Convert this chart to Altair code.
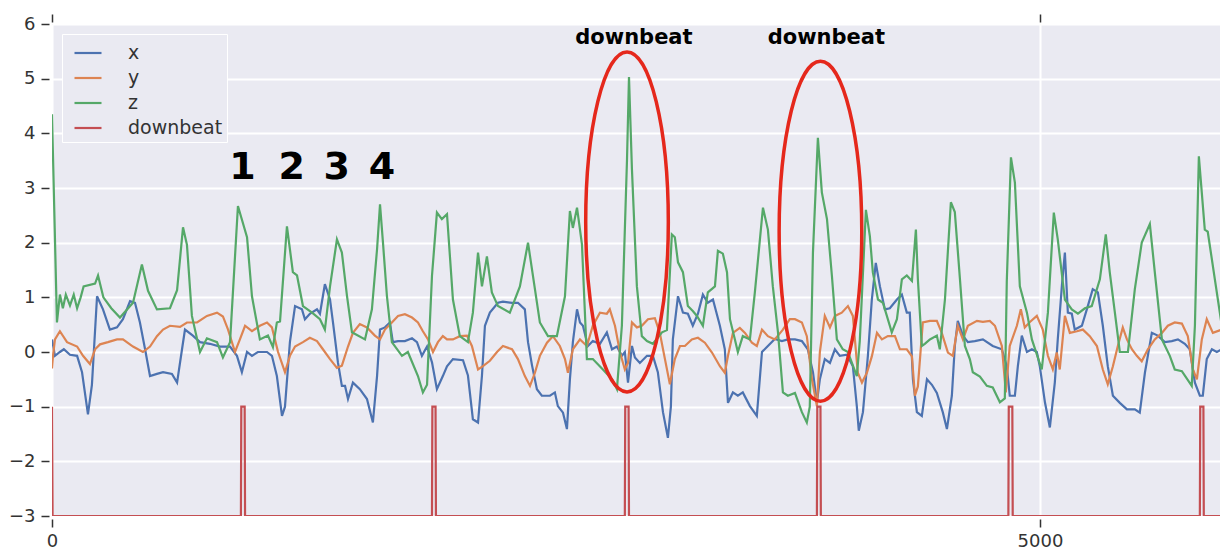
import altair as alt
import pandas as pd

# ---------------- data ----------------
x_t = [0, 15, 40, 60, 91, 127, 152, 182, 202, 228, 258, 293, 329, 359, 395, 420, 445, 471, 496, 531,
       562, 607, 633, 658, 673, 713, 749, 799, 850, 901, 936, 961, 987, 1012, 1042, 1088, 1113, 1138, 1164, 1179,
       1204, 1230, 1265, 1280, 1305, 1341, 1356, 1381, 1407, 1422, 1447, 1467, 1483, 1498, 1523, 1558, 1594, 1624, 1645, 1660,
       1685, 1710, 1725, 1751, 1786, 1822, 1847, 1872, 1898, 1923, 1948, 1978, 1999, 2029, 2080, 2105, 2130, 2156, 2176, 2191,
       2216, 2257, 2282, 2328, 2358, 2393, 2409, 2429, 2454, 2479, 2520, 2545, 2560, 2586, 2606, 2621, 2636, 2657, 2672, 2687,
       2712, 2737, 2773, 2808, 2834, 2859, 2884, 2899, 2915, 2935, 2950, 2975, 3011, 3041, 3066, 3092, 3117, 3132, 3142, 3168,
       3193, 3218, 3243, 3269, 3294, 3319, 3345, 3380, 3405, 3421, 3446, 3471, 3496, 3532, 3567, 3593, 3623, 3658, 3694, 3724,
       3760, 3795, 3825, 3851, 3871, 3886, 3911, 3937, 3962, 3987, 4023, 4053, 4073, 4083, 4104, 4129, 4149, 4169, 4190, 4215,
       4240, 4276, 4301, 4326, 4341, 4357, 4377, 4402, 4428, 4453, 4478, 4508, 4529, 4554, 4569, 4584, 4610, 4635, 4670, 4711,
       4761, 4807, 4832, 4847, 4873, 4888, 4908, 4934, 4959, 4984, 4999, 5025, 5050, 5075, 5090, 5111, 5126, 5141, 5161, 5176,
       5212, 5242, 5267, 5293, 5318, 5343, 5369, 5404, 5440, 5480, 5505, 5531, 5566, 5596, 5632, 5667, 5698, 5733, 5758, 5784,
       5809, 5824, 5844, 5870, 5895, 5920, 5951]
x_v = [0.23, -0.07, 0.0, 0.05, -0.05, -0.07, -0.37, -1.14, -0.6, 1.02, 0.78, 0.41, 0.45, 0.6, 0.93, 0.9, 0.54, 0.05, -0.44, -0.4,
       -0.37, -0.4, -0.56, 0.05, 0.41, 0.3, 0.18, 0.15, 0.1, 0.1, -0.07, -0.37, 0.0, -0.07, 0.0, 0.0, -0.07, -0.44, -1.17, -1.0,
       0.18, 0.84, 0.78, 0.6, 0.7, 0.78, 0.7, 1.24, 0.96, 0.54, -0.19, -0.62, -0.62, -0.86, -0.56, -0.68, -0.86, -1.29, -0.44, 0.41,
       0.45, 0.54, 0.18, 0.2, 0.2, 0.25, 0.18, -0.07, 0.1, -0.19, -0.68, -0.44, -0.26, -0.13, -0.15, -0.43, -1.23, -1.29, -0.43, 0.48,
       0.72, 0.9, 0.92, 0.9, 0.9, 0.78, 0.18, -0.24, -0.68, -0.8, -0.8, -0.74, -0.99, -1.11, -1.41, -0.5, 0.18, 0.78, 0.54, 0.48,
       0.11, 0.2, 0.15, 0.36, 0.05, 0.1, -0.07, 0.0, -0.56, 0.11, -0.1, -0.2, -0.07, -0.07, -0.37, -1.1, -1.57, -1.0, 0.23, 1.02,
       0.72, 0.7, 0.48, 0.7, 1.05, 0.9, 0.96, 0.48, 0.05, -0.93, -0.74, -0.8, -0.74, -0.99, -1.17, 0.0, 0.11, 0.24, 0.2, 0.23,
       0.23, 0.2, 0.05, -0.37, -0.92, -0.5, -0.13, -0.2, 0.05, -0.07, -0.05, -0.26, -0.99, -1.44, -1.1, -0.07, 0.96, 1.63, 1.2, 0.78,
       0.8, 0.96, 1.05, 0.72, 0.72, -0.5, -1.1, -1.17, -0.5, -0.6, -0.75, -1.1, -1.41, -0.8, 0.11, 0.57, 0.3, 0.18, 0.2, 0.23,
       0.11, 0.05, -0.26, -0.8, -0.8, -0.26, 0.3, 0.0, 0.05, 0.0, -0.26, -0.92, -1.38, -0.56, 0.23, 1.22, 1.82, 0.72, 0.7, 0.41,
       0.48, 0.84, 1.15, 1.09, 0.48, -0.26, -0.8, -0.93, -1.05, -1.05, -1.11, -0.38, 0.35, 0.3, 0.18, 0.2, 0.23, 0.15, 0.05, -0.56,
       -0.8, -0.8, -0.13, 0.05, 0.0, 0.05, -0.13]

y_t = [0, 5, 15, 40, 76, 127, 157, 192, 218, 243, 283, 329, 359, 410, 460, 496, 531, 562, 597, 648,
       683, 734, 784, 835, 865, 891, 926, 951, 977, 1012, 1052, 1088, 1113, 1144, 1179, 1204, 1230, 1270, 1305, 1341,
       1371, 1407, 1442, 1467, 1498, 1523, 1558, 1594, 1634, 1660, 1685, 1720, 1751, 1786, 1822, 1852, 1877, 1903, 1928, 1953,
       1978, 1999, 2029, 2064, 2100, 2125, 2156, 2181, 2216, 2252, 2282, 2328, 2358, 2393, 2419, 2444, 2469, 2505, 2535, 2570,
       2596, 2611, 2636, 2672, 2707, 2737, 2773, 2808, 2823, 2849, 2874, 2899, 2915, 2935, 2960, 2985, 3016, 3051, 3076, 3102,
       3127, 3152, 3178, 3203, 3238, 3269, 3304, 3340, 3380, 3405, 3421, 3446, 3481, 3507, 3542, 3567, 3593, 3623, 3658, 3699,
       3734, 3760, 3795, 3820, 3846, 3871, 3886, 3911, 3937, 3962, 3997, 4028, 4053, 4078, 4099, 4124, 4149, 4175, 4200, 4230,
       4266, 4291, 4326, 4352, 4367, 4382, 4407, 4443, 4478, 4503, 4534, 4559, 4584, 4610, 4635, 4681, 4711, 4746, 4772, 4807,
       4827, 4847, 4883, 4903, 4923, 4949, 4984, 5014, 5040, 5065, 5085, 5100, 5126, 5151, 5187, 5217, 5252, 5288, 5318, 5343,
       5369, 5394, 5419, 5440, 5465, 5490, 5515, 5546, 5581, 5617, 5647, 5682, 5718, 5748, 5774, 5794, 5819, 5844, 5875, 5920,
       5951]
y_v = [-0.3, -0.07, 0.23, 0.38, 0.18, 0.1, -0.07, -0.22, 0.05, 0.14, 0.18, 0.23, 0.23, 0.1, 0.0, 0.1, 0.29, 0.41, 0.48, 0.46,
       0.54, 0.54, 0.66, 0.72, 0.65, 0.41, 0.0, 0.23, 0.48, 0.38, 0.48, 0.54, 0.45, 0.0, -0.37, -0.07, 0.1, 0.18, 0.26, 0.2,
       0.05, -0.13, -0.29, -0.25, 0.1, 0.35, 0.51, 0.45, 0.3, 0.23, 0.41, 0.54, 0.66, 0.69, 0.63, 0.54, 0.38, 0.23, 0.0, 0.18,
       0.29, 0.23, 0.23, 0.29, 0.3, 0.11, -0.32, -0.26, -0.16, 0.0, 0.11, 0.05, -0.13, -0.44, -0.62, -0.38, -0.07, 0.17, 0.29, 0.11,
       -0.13, -0.38, 0.05, 0.23, 0.11, 0.48, 0.72, 0.7, 0.78, 0.48, 0.0, -0.32, -0.2, 0.54, 0.45, 0.48, 0.6, 0.62, 0.35, -0.13,
       -0.59, -0.13, 0.11, 0.11, 0.23, 0.26, 0.17, -0.01, -0.26, -0.38, -0.07, 0.35, 0.44, 0.35, 0.17, 0.11, 0.41, 0.29, 0.23, 0.41,
       0.6, 0.6, 0.54, 0.29, -0.5, -0.99, 0.0, 0.66, 0.45, 0.66, 0.72, 0.84, 0.66, -0.38, -0.56, -0.38, -0.08, 0.35, 0.23, 0.29,
       0.29, 0.05, 0.05, -0.08, -0.8, -0.63, 0.54, 0.57, 0.57, 0.35, -0.01, -0.07, 0.48, 0.23, 0.48, 0.57, 0.55, 0.57, 0.48, 0.11,
       -0.74, 0.11, 0.48, 0.78, 0.45, 0.55, 0.66, 0.41, -0.07, -0.32, -0.01, -0.32, 0.66, 0.35, 0.38, 0.41, 0.29, 0.11, -0.32, -0.59,
       -0.26, 0.11, 0.45, 0.23, 0.05, -0.07, -0.17, 0.05, 0.23, 0.35, 0.48, 0.54, 0.52, 0.29, -0.32, -0.5, 0.23, 0.6, 0.35, 0.41,
       0.48]

z_t = [0, 25, 40, 55, 70, 91, 110, 127, 145, 160, 218, 233, 260, 300, 344, 410, 455, 486, 531, 597,
       633, 663, 683, 708, 749, 784, 835, 865, 901, 941, 987, 1012, 1052, 1093, 1118, 1138, 1154, 1189, 1219, 1240,
       1270, 1316, 1356, 1381, 1407, 1442, 1467, 1493, 1518, 1584, 1619, 1645, 1660, 1675, 1695, 1720, 1771, 1801, 1852, 1877,
       1898, 1923, 1948, 1973, 1999, 2029, 2064, 2105, 2130, 2156, 2176, 2201, 2226, 2257, 2317, 2368, 2409, 2444, 2469, 2510,
       2555, 2596, 2621, 2636, 2657, 2682, 2707, 2737, 2788, 2834, 2859, 2884, 2910, 2920, 2935, 2960, 2985, 3011, 3041, 3087,
       3112, 3137, 3152, 3168, 3193, 3218, 3243, 3264, 3294, 3319, 3355, 3370, 3395, 3416, 3431, 3456, 3471, 3496, 3532, 3557,
       3598, 3623, 3648, 3674, 3699, 3724, 3760, 3795, 3820, 3835, 3851, 3876, 3896, 3922, 3947, 3972, 4002, 4028, 4073, 4088,
       4119, 4139, 4154, 4180, 4205, 4250, 4276, 4301, 4326, 4352, 4372, 4382, 4402, 4417, 4443, 4478, 4493, 4519, 4549, 4569,
       4595, 4620, 4645, 4660, 4696, 4731, 4761, 4797, 4822, 4832, 4853, 4873, 4898, 4934, 4959, 5009, 5040, 5070, 5090, 5126,
       5161, 5192, 5227, 5262, 5303, 5333, 5353, 5379, 5404, 5445, 5480, 5515, 5556, 5581, 5617, 5657, 5682, 5718, 5768, 5784,
       5804, 5834, 5849, 5885, 5920, 5951]
z_v = [4.35, 0.54, 1.05, 0.8, 1.05, 0.85, 1.05, 0.8, 1.0, 1.2, 1.25, 1.4, 1.0, 0.8, 0.63, 0.9, 1.6, 1.12, 0.78, 0.8,
       1.13, 2.28, 1.96, 0.66, 0.0, 0.25, 0.18, -0.1, 0.18, 2.67, 2.1, 1.02, 0.23, 0.3, 0.09, 0.54, 0.56, 2.3, 1.46, 1.4,
       0.84, 0.72, 0.6, 0.41, 1.2, 2.06, 1.82, 1.02, 0.36, 0.23, 0.78, 1.88, 2.7, 2.0, 1.02, 0.18, -0.07, 0.0, -0.44, -0.74,
       -0.6, 1.39, 2.55, 2.43, 2.52, 0.96, 0.29, 0.18, 0.72, 1.82, 1.2, 1.75, 1.09, 0.84, 0.72, 1.2, 2.0, 1.15, 0.54, 0.29,
       0.29, 1.02, 2.58, 2.27, 2.64, 1.97, -0.13, -0.13, -0.32, -0.5, -0.68, 0.48, 3.52, 5.03, 3.34, 1.2, 0.29, 0.2, 0.15, 0.36,
       0.4, 2.15, 2.1, 1.64, 1.46, 0.84, 0.75, 0.66, 0.48, 1.09, 1.2, 1.85, 1.8, 1.46, 0.6, 0.23, 0.0, 0.29, 0.23, 1.09,
       2.64, 2.24, 1.2, 0.36, -0.74, -0.8, -0.75, -1.1, -1.29, -1.0, 1.82, 3.92, 2.92, 2.43, 1.39, 0.23, 0.05, 0.0, -0.44, 0.2,
       2.6, 2.12, 1.46, 0.96, 0.9, 0.36, 0.6, 1.33, 1.4, 1.3, 2.24, 1.33, 0.11, 0.15, 0.23, 0.3, 0.05, 0.96, 2.74, 2.56,
       1.33, 0.11, -0.13, -0.37, -0.45, -0.62, -0.65, -0.92, -0.85, 1.3, 3.56, 3.1, 1.2, 0.72, 0.23, -0.32, 0.72, 2.55, 2.06, 0.96,
       0.78, 0.7, 0.8, 0.84, 1.33, 2.15, 1.46, 0.72, 0.0, 0.0, 1.15, 2.0, 2.34, 1.46, 0.23, -0.07, -0.32, -0.35, -0.62, 0.48,
       3.58, 2.24, 2.2, 1.33, 0.48, 0.11]

db_t = [0, 3, 956, 958, 975, 977, 1923, 1925, 1941, 1943, 2899, 2901, 2918, 2920,
        3871, 3873, 3889, 3891, 4840, 4842, 4860, 4862, 5809, 5811, 5827, 5829, 5951]
db_v = [-1, -3, -3, -1, -1, -3, -3, -1, -1, -3, -3, -1, -1, -3,
        -3, -1, -1, -3, -3, -1, -1, -3, -3, -1, -1, -3, -3]

series_names = ["x", "y", "z", "downbeat"]
series_colors = ["#4C72B0", "#DD8452", "#55A868", "#C44E52"]

beat_labels = ["1", "2", "3", "4"]
beat_t = [964, 1213, 1441, 1670]
beat_y = [3.16, 3.16, 3.16, 3.16]

db_label_t = [2945, 3919]
db_label_y = [5.64, 5.64]

ring_t = [2910, 3889]
ring_y = [2.38, 2.21]

# ---------------- tables ----------------
rows = []
for name, ts, vs in [("x", x_t, x_v), ("y", y_t, y_v), ("z", z_t, z_v), ("downbeat", db_t, db_v)]:
    for i, (t, v) in enumerate(zip(ts, vs)):
        rows.append({"series": name, "t": t, "value": v, "i": i})
lines_df = pd.DataFrame(rows)

beats_df = pd.DataFrame({"label": beat_labels, "t": beat_t, "value": beat_y})
dbl_df = pd.DataFrame({"label": ["downbeat", "downbeat"], "t": db_label_t, "value": db_label_y})
ring_df = pd.DataFrame({"t": ring_t, "value": ring_y})

FONT = "DejaVu Sans"
XMAX = 5911

x_scale = alt.Scale(domain=[0, XMAX], nice=False, zero=False)
y_scale = alt.Scale(domain=[-3, 6], nice=False, zero=False)

x_axis_bottom = alt.Axis(values=[0, 5000], format="d", title=None, grid=True, gridColor="white",
                         gridWidth=2, domain=False, ticks=True, tickSize=8, tickColor="#333333",
                         tickWidth=1.5, offset=3, labelPadding=5, labelFont=FONT, labelFontSize=18,
                         labelColor="#333333", labelFlush=False)
x_axis_top = alt.Axis(values=[0, 5000], orient="top", title=None, grid=False, domain=False,
                      labels=False, ticks=True, tickSize=8, tickColor="#333333", tickWidth=1.5, offset=2)
y_axis = alt.Axis(values=[-3, -2, -1, 0, 1, 2, 3, 4, 5, 6], format="d", title=None, grid=True,
                  gridColor="white", gridWidth=2, domain=False, ticks=True, tickSize=8,
                  tickColor="#333333", tickWidth=1.5, offset=3, labelPadding=6, labelFont=FONT,
                  labelFontSize=18, labelColor="#333333", labelFlush=False)

color = alt.Color("series:N",
                  scale=alt.Scale(domain=series_names, range=series_colors),
                  legend=alt.Legend(title=None, orient="top-left", offset=10, padding=4,
                                    fillColor="#EAEAF2", strokeColor="white",
                                    symbolType="stroke", symbolSize=729, symbolStrokeWidth=2.2,
                                    symbolOffset=7, labelOffset=25, labelFont=FONT,
                                    labelFontSize=19, labelColor="#333333", rowPadding=0))

layers = []
for k, name in enumerate(series_names):
    layers.append(
        alt.Chart(lines_df).transform_filter(alt.datum.series == name)
        .mark_line(strokeWidth=2.2, clip=True)
        .encode(
            x=alt.X("t:Q", scale=x_scale, axis=x_axis_bottom if k == 0 else None),
            y=alt.Y("value:Q", scale=y_scale, axis=y_axis),
            color=color,
            order="i:Q",
        )
    )

ellipse_path = ("M 0 -1 C 0.1342 -1 0.243 -0.5523 0.243 0 C 0.243 0.5523 0.1342 1 0 1 "
                "C -0.1342 1 -0.243 0.5523 -0.243 0 C -0.243 -0.5523 -0.1342 -1 0 -1 Z")
rings = alt.Chart(ring_df).mark_point(shape=ellipse_path, filled=False, stroke="#E5281C",
                                      strokeWidth=3.5, size=115600, opacity=1).encode(
    x=alt.X("t:Q", scale=x_scale, axis=None),
    y=alt.Y("value:Q", scale=y_scale, axis=y_axis),
)

beats = alt.Chart(beats_df).mark_text(font=FONT, fontWeight="bold", fontSize=38, color="black",
                                      baseline="alphabetic", align="center").encode(
    x=alt.X("t:Q", scale=x_scale, axis=x_axis_top),
    y=alt.Y("value:Q", scale=y_scale, axis=y_axis),
    text="label:N",
)

dbl = alt.Chart(dbl_df).mark_text(font=FONT, fontWeight="bold", fontSize=21, color="black",
                                  baseline="alphabetic", align="center").encode(
    x=alt.X("t:Q", scale=x_scale, axis=None),
    y=alt.Y("value:Q", scale=y_scale, axis=y_axis),
    text="label:N",
)

chart = (
    alt.layer(*layers, rings, beats, dbl)
    .resolve_axis(x="independent")
    .properties(width=1168, height=492, autosize=alt.AutoSizeParams(type="none"),
                padding={"left": 44, "top": 16, "right": 0, "bottom": 34},
                background="white")
    .configure_view(fill="#EAEAF2", stroke=None)
)

chart.save("out.html", embed_options={"renderer": "svg", "actions": False})
